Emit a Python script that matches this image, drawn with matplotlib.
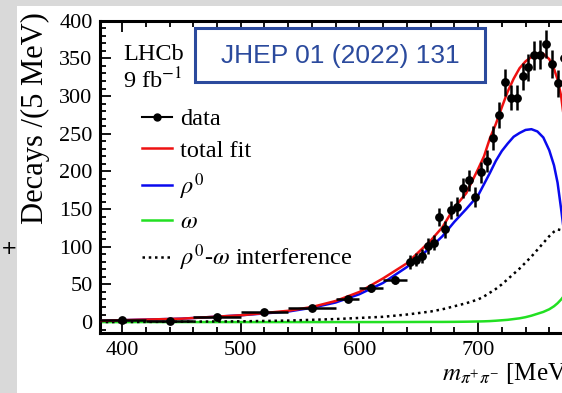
import matplotlib
matplotlib.use("Agg")
import matplotlib.pyplot as plt
from matplotlib.lines import Line2D
from matplotlib.patches import Rectangle
from matplotlib.ticker import MultipleLocator

plt.rcParams['font.family'] = 'serif'
plt.rcParams['font.serif'] = ['Liberation Serif', 'DejaVu Serif']
plt.rcParams['mathtext.fontset'] = 'stix'

# binned m(pi+ pi-) spectrum, per 5 MeV
data_mass = [400, 440, 480, 520, 560, 590, 610, 630,
             642.5, 647.5, 652.5, 657.5, 662.5, 667.5, 672.5, 677.5, 682.5,
             687.5, 692.5, 697.5, 702.5, 707.5, 712.5, 717.5, 722.5, 727.5,
             732.5, 737.5, 742.5, 747.5, 752.5, 757.5, 762.5, 767.5, 772.5]
data_yield = [2.7, 1.0, 6.6, 13, 18.6, 30.5, 45, 56,
              80, 83, 88, 101, 105, 139, 123, 149, 153,
              178, 188, 166, 199, 214, 244, 275, 318, 298,
              298, 326, 338, 354, 355, 369, 342, 317, 350]
data_err = [0.7, 0.6, 1.0, 1.4, 1.7, 4, 5, 5.5,
            9, 9, 9.5, 10, 10, 12, 11, 12, 12.5,
            13, 14, 13, 14, 15, 16, 17, 18, 17,
            17, 18, 18, 19, 19, 19, 18.5, 18, 18]
data_binw = [20, 20, 20, 20, 20, 10, 10, 10] + [2.5] * 27

# fit components
fit_mass = [381, 400, 450, 500, 540, 560, 580, 600, 620, 640, 660, 670, 680,
            690, 700, 705, 710, 715, 720, 725, 730, 735, 740, 745, 750, 755,
            760, 764, 767, 770, 772]
fit_total = [1.5, 2.5, 4.5, 9, 15, 20, 28, 40, 58, 78, 108, 126, 152,
             171, 203, 220, 244, 263, 285, 306, 323, 337, 346, 352, 356, 356,
             349, 336, 322, 300, 275]
fit_rho = [1.5, 2.5, 4.5, 9, 14, 19, 26, 37, 52, 73, 99, 114, 133,
           150, 168, 183, 198, 214, 227, 237, 246, 251, 255, 256, 253, 245,
           228, 208, 185, 150, 125]
fit_omega = [0, 0, 0, 0, 0, 0, 0, 0, 0, 0.1, 0.2, 0.2, 0.3,
             0.5, 0.8, 1.0, 1.3, 1.8, 2.4, 3.0, 4.0, 5.0, 6.5, 8.5, 11, 13.5,
             17, 21, 25, 30, 34]
fit_interf = [0, 0, 0.5, 1, 2, 3, 4, 5.5, 7, 10, 14, 17, 21,
              25, 30, 34, 39, 44, 50, 57, 64, 71, 79, 87, 96, 105,
              114, 120, 123, 122, 118]

x_ticks = [400, 500, 600, 700]

W, H = 562, 393
fig = plt.figure(figsize=(W / 100, H / 100), dpi=100, facecolor='#d9d9d9')
fig.patches.append(Rectangle((17 / W, 0), 1, (H - 6) / H, transform=fig.transFigure,
                             facecolor='white', edgecolor='none', zorder=-1))

xmin, xmax = 381, 800
ax = fig.add_axes([99.5 / W, (H - 333) / H, (xmax - xmin) * 1.1867 / W, (333 - 20.7) / H])

ax.plot(fit_mass, fit_omega, color='#22e022', lw=1.8, zorder=2)
ax.plot(fit_mass, fit_interf, color='black', lw=1.8, ls=(0, (1, 1.5)), zorder=2)
ax.plot(fit_mass, fit_rho, color='#0a0aee', lw=1.8, zorder=3)
ax.plot(fit_mass, fit_total, color='#ee1111', lw=1.8, zorder=4)
ax.errorbar(data_mass, data_yield, yerr=data_err, xerr=data_binw, fmt='o',
            color='black', ms=5.3, elinewidth=1.8, capsize=0, zorder=5)

ax.set_xlim(xmin, xmax)
ax.set_ylim(-14.5, 400)
ax.set_xticks(x_ticks)
ax.xaxis.set_minor_locator(MultipleLocator(20))
ax.yaxis.set_major_locator(MultipleLocator(50))
ax.yaxis.set_minor_locator(MultipleLocator(10))
ax.tick_params(which='both', direction='in', top=True, right=False, width=1.3)
ax.tick_params(which='major', length=8, labelsize=16)
ax.tick_params(axis='x', which='major', pad=6)
ax.tick_params(axis='y', which='major', pad=5)
ax.tick_params(which='minor', length=4)
for side in ['left', 'bottom', 'top']:
    ax.spines[side].set_linewidth(2.2)
ax.spines['right'].set_visible(False)

handles = [
    Line2D([], [], color='black', marker='o', ms=5, lw=1.5),
    Line2D([], [], color='#ee1111', lw=1.8),
    Line2D([], [], color='#0a0aee', lw=1.8),
    Line2D([], [], color='#22e022', lw=1.8),
    Line2D([], [], color='black', lw=1.8, ls=(0, (1, 1.5))),
]
labels = ['data', 'total fit', r'$\rho^{\mathit{0}}$', r'$\omega$',
          r'$\rho^{\mathit{0}}$-$\omega$ interference']
fig.legend(handles, labels, loc='upper left', bbox_to_anchor=(142 / W, 1 - 108 / H),
           frameon=False, fontsize=17.5, borderpad=0, borderaxespad=0,
           handlelength=1.25, handletextpad=0.3, labelspacing=0.39)

fig.text(123 / W, 1 - 54 / H, 'LHCb', fontsize=17.5, va='center')
fig.text(123 / W, 1 - 81 / H, r'9 fb$^{-1}$', fontsize=17.5, va='center')

fig.patches.append(Rectangle((195 / W, 1 - 82 / H), 290 / W, 54 / H, transform=fig.transFigure,
                             facecolor='white', edgecolor='#2b4a9d', lw=2.2, zorder=5))
fig.text(340 / W, 1 - 56 / H, 'JHEP 01 (2022) 131', family='Liberation Sans',
         fontsize=19, color='#2b4a9d', ha='center', va='center', zorder=6)

fig.text(35 / W, 1 - 12 / H, 'Decays /(5 MeV)', rotation=90, fontsize=22,
         ha='center', va='top')
fig.text(442 / W, 1 - 374 / H, r'$m_{\pi^{+}\pi^{-}}$ [MeV]', fontsize=18, va='center')
fig.text(9 / W, 1 - 248 / H, '+', family='DejaVu Sans', fontsize=14, ha='center', va='center')

fig.savefig('out.png', dpi=100, facecolor=fig.get_facecolor())
